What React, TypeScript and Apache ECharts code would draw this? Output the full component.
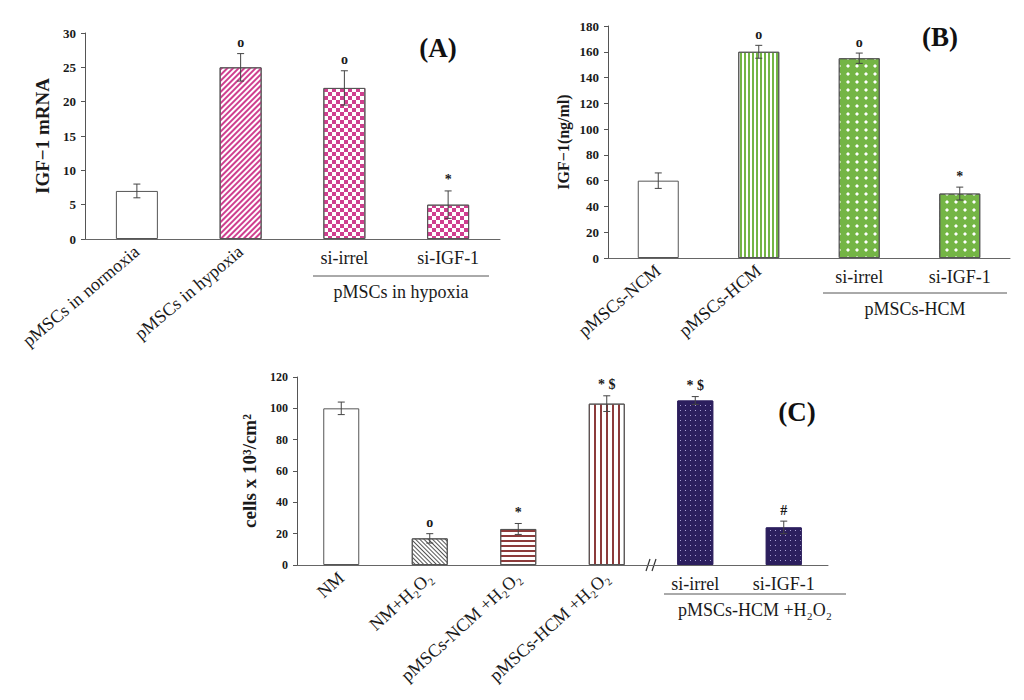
import React, { useEffect, useRef } from 'react';
import * as echarts from 'echarts';

const FONT = "'Liberation Serif', 'Times New Roman', serif";

// (A) IGF-1 mRNA
const categoriesA = ['pMSCs in normoxia', 'pMSCs in hypoxia', 'si-irrel', 'si-IGF-1'];
const valuesA = [7, 25, 22, 5];
const errorsA = [1, 2, 2.5, 2];
const marksA = ['', 'o', 'o', '*'];
const ticksA = { max: 30, interval: 5 };

// (B) IGF-1 ng/ml
const categoriesB = ['pMSCs-NCM', 'pMSCs-HCM', 'si-irrel', 'si-IGF-1'];
const valuesB = [60, 160, 155, 50];
const errorsB = [6, 5, 4, 5];
const marksB = ['', 'o', 'o', '*'];
const ticksB = { max: 180, interval: 20 };

// (C) cells x 10^3/cm^2
const categoriesC = ['NM', 'NM+H₂O₂', 'pMSCs-NCM +H₂O₂', 'pMSCs-HCM +H₂O₂', 'si-irrel', 'si-IGF-1'];
const valuesC = [100, 17, 23, 103, 105, 24];
const errorsC = [4, 3, 3.5, 5, 2.5, 4];
const marksC = ['', 'o', '*', '* $', '* $', '#'];
const ticksC = { max: 120, interval: 20 };

const magenta = '#cf3f8f';
const green = '#74b545';
const brown = '#8c3b3b';
const navy = '#2c1f5e';

const border = { borderColor: '#555', borderWidth: 1 };
const plain = { color: '#fff', ...border };

const checker = { symbol: 'rect', symbolSize: 1, color: magenta, dashArrayX: [[3.5, 3.5], [0, 3.5, 3.5, 0]], dashArrayY: [3.5, 0] };
const stylesA = [
  plain,
  { color: '#fff', ...border, decal: { symbol: 'rect', symbolSize: 1, color: magenta, dashArrayX: [1, 0], dashArrayY: [1.1, 1.1], rotation: -Math.PI / 4 } },
  { color: '#fff', ...border, decal: checker },
  { color: '#fff', ...border, decal: checker },
];
const dotsB = { symbol: 'diamond', symbolSize: 1, color: '#fff', dashArrayX: [4, 5], dashArrayY: [4, 4] };
const stylesB = [
  plain,
  { color: '#fff', ...border, decal: { symbol: 'rect', symbolSize: 1, color: green, dashArrayX: [1.8, 1.5], dashArrayY: [1, 0] } },
  { color: green, ...border, decal: dotsB },
  { color: green, ...border, decal: dotsB },
];
const dotsC = { symbol: 'rect', symbolSize: 1, color: '#a89ed4', dashArrayX: [1, 4], dashArrayY: [1, 4] };
const stylesC = [
  plain,
  { color: '#fff', ...border, decal: { symbol: 'rect', symbolSize: 1, color: '#555', dashArrayX: [1, 0], dashArrayY: [1, 1.6], rotation: Math.PI / 4 } },
  { color: '#fff', ...border, decal: { symbol: 'rect', symbolSize: 1, color: brown, dashArrayX: [1, 0], dashArrayY: [1.4, 2.8] } },
  { color: '#fff', ...border, decal: { symbol: 'rect', symbolSize: 1, color: brown, dashArrayX: [1.4, 3.6], dashArrayY: [1, 0] } },
  { color: navy, borderColor: navy, borderWidth: 1, decal: dotsC },
  { color: navy, borderColor: navy, borderWidth: 1, decal: dotsC },
];

const gridA = { left: 85, top: 33, width: 415, height: 206 };
const gridB = { left: 608, top: 26, width: 402, height: 232 };
const gridC = { left: 297, top: 377, width: 531, height: 188 };

function xAxes(gridIndex: number, cats: string[], groupFrom: number, rotate: number, fontSize: number) {
  const labelStyle = { fontSize, fontFamily: FONT, color: '#1a1a1a' };
  return [
    {
      type: 'category', gridIndex, data: cats, position: 'bottom',
      axisLine: { lineStyle: { color: '#666', width: 1 } },
      axisTick: { show: false },
      axisLabel: { ...labelStyle, interval: 0, rotate, margin: 10, formatter: (v: string, i: number) => (i < groupFrom ? v : '') },
    },
    {
      type: 'category', gridIndex, data: cats, position: 'bottom',
      axisLine: { show: false }, axisTick: { show: false },
      axisLabel: { ...labelStyle, interval: 0, margin: 10, formatter: (v: string, i: number) => (i >= groupFrom ? v : '') },
    },
  ];
}

function yAxis(gridIndex: number, t: { max: number; interval: number }, name: string, nameGap: number, nameSize: number, tickSize: number) {
  return {
    type: 'value', gridIndex, min: 0, max: t.max, interval: t.interval,
    name, nameLocation: 'middle', nameGap,
    nameTextStyle: { fontFamily: FONT, fontWeight: 'bold', fontSize: nameSize, color: '#1a1a1a' },
    axisLine: { show: true, lineStyle: { color: '#555', width: 1 } },
    axisTick: { show: true, length: 4, lineStyle: { color: '#555' } },
    splitLine: { show: false },
    axisLabel: { fontFamily: FONT, fontWeight: 'bold', fontSize: tickSize, color: '#1a1a1a', margin: 9 },
  };
}

function barSeries(axis: number, values: number[], styles: any[], barWidth: number) {
  return {
    type: 'bar', xAxisIndex: axis * 2, yAxisIndex: axis, barWidth,
    data: values.map((v, i) => ({ value: v, itemStyle: styles[i] })),
  };
}

function errorSeries(axis: number, values: number[], errors: number[], marks: string[], markSize: number) {
  return {
    type: 'custom', xAxisIndex: axis * 2, yAxisIndex: axis, z: 5,
    data: values.map((v, i) => [i, v, errors[i]]),
    encode: { x: 0, y: 1 },
    renderItem: (params: any, api: any) => {
      const i = api.value(0);
      const v = api.value(1);
      const e = api.value(2);
      const hi = api.coord([i, v + e]);
      const lo = api.coord([i, v - e]);
      const cap = 3.5;
      const stroke = { stroke: '#444', lineWidth: 1 };
      return {
        type: 'group',
        children: [
          { type: 'line', shape: { x1: hi[0], y1: hi[1], x2: lo[0], y2: lo[1] }, style: stroke },
          { type: 'line', shape: { x1: hi[0] - cap, y1: hi[1], x2: hi[0] + cap, y2: hi[1] }, style: stroke },
          { type: 'line', shape: { x1: lo[0] - cap, y1: lo[1], x2: lo[0] + cap, y2: lo[1] }, style: stroke },
          {
            type: 'text', x: hi[0], y: hi[1] - 4,
            style: { text: marks[params.dataIndex], font: `bold ${markSize}px ${FONT}`, fill: '#1a1a1a', textAlign: 'center', textVerticalAlign: 'bottom' },
          },
        ],
      };
    },
  };
}

function groupLabel(x1: number, x2: number, y: number, text: string, fontSize: number) {
  return [
    { type: 'line', shape: { x1, y1: y, x2, y2: y }, style: { stroke: '#555', lineWidth: 1 } },
    {
      type: 'text', x: (x1 + x2) / 2, y: y + 16,
      style: { text, font: `${fontSize}px ${FONT}`, fill: '#1a1a1a', textAlign: 'center', textVerticalAlign: 'middle' },
    },
  ];
}

function panelLetter(x: number, y: number, letter: string) {
  return {
    type: 'text', x, y,
    style: { text: `(${letter})`, font: `bold 27px ${FONT}`, fill: '#111', textAlign: 'center', textVerticalAlign: 'middle' },
  };
}

const App: React.FC = () => {
  const chartRef = useRef<HTMLDivElement>(null);

  useEffect(() => {
    const chart = echarts.init(chartRef.current!, undefined, { renderer: 'svg' });

    const breakX = gridC.left + (gridC.width / categoriesC.length) * 4;
    const baseC = gridC.top + gridC.height;

    chart.setOption({
      animation: false,
      backgroundColor: '#fff',
      grid: [
        { ...gridA, outerBoundsMode: 'none' },
        { ...gridB, outerBoundsMode: 'none' },
        { ...gridC, outerBoundsMode: 'none' },
      ],
      xAxis: [
        ...xAxes(0, categoriesA, 2, 40, 18),
        ...xAxes(1, categoriesB, 2, 40, 18),
        ...xAxes(2, categoriesC, 4, 42, 18),
      ],
      yAxis: [
        yAxis(0, ticksA, 'IGF−1 mRNA', 33, 19, 13),
        yAxis(1, ticksB, 'IGF−1(ng/ml)', 37, 16, 13),
        yAxis(2, ticksC, 'cells x 10³/cm²', 33, 19, 12),
      ],
      series: [
        barSeries(0, valuesA, stylesA, 42),
        barSeries(1, valuesB, stylesB, 41),
        barSeries(2, valuesC, stylesC, 36),
        errorSeries(0, valuesA, errorsA, marksA, 14),
        errorSeries(1, valuesB, errorsB, marksB, 14),
        errorSeries(2, valuesC, errorsC, marksC, 14),
      ],
      graphic: [
        ...groupLabel(313, 489, 276, 'pMSCs in hypoxia', 18),
        ...groupLabel(823, 1007, 293, 'pMSCs-HCM', 18),
        ...groupLabel(664, 846, 594, 'pMSCs-HCM +H₂O₂', 18),
        panelLetter(438, 48, 'A'),
        panelLetter(940, 37, 'B'),
        panelLetter(797, 412, 'C'),
        {
          type: 'group', x: breakX, y: baseC, z: 100,
          children: [
            { type: 'rect', shape: { x: -4, y: -2, width: 8, height: 4 }, style: { fill: '#fff' } },
            { type: 'line', shape: { x1: -5, y1: 6, x2: -1, y2: -6 }, style: { stroke: '#333', lineWidth: 1.2 } },
            { type: 'line', shape: { x1: 1, y1: 6, x2: 5, y2: -6 }, style: { stroke: '#333', lineWidth: 1.2 } },
          ],
        },
      ],
    });

    return () => {
      chart.dispose();
    };
  }, []);

  return <div ref={chartRef} style={{ position: 'absolute', left: 0, top: 0, width: '1024px', height: '700px' }} />;
};

export default App;
